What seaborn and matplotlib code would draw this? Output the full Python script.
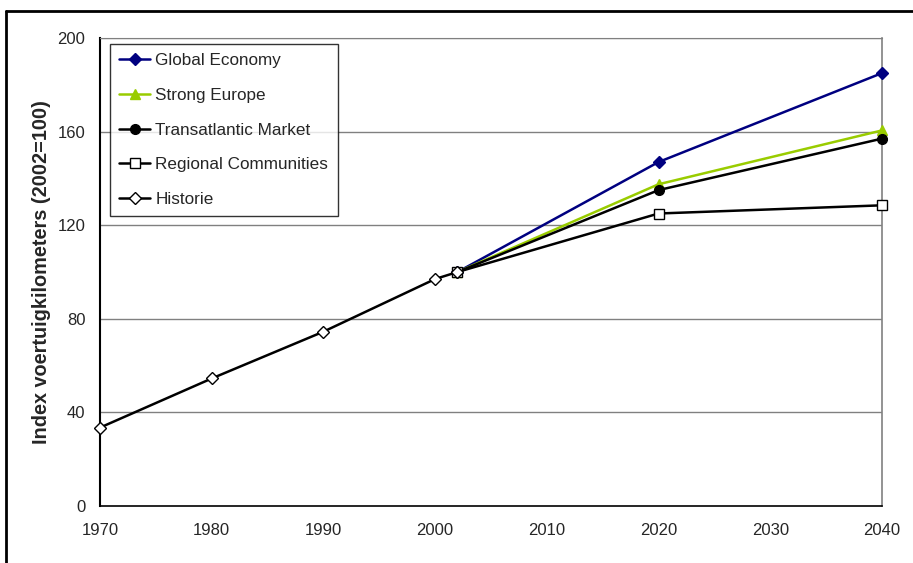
import matplotlib
matplotlib.use("Agg")
import matplotlib.pyplot as plt
from matplotlib.lines import Line2D
import seaborn as sns
import pandas as pd

sns.set_style("white")
plt.rcParams["font.family"] = ["Liberation Sans", "DejaVu Sans"]

# Scenario projections (index, 2002 = 100)
scenario_years = [2002, 2020, 2040]
global_economy = [100, 147, 185]
strong_europe = [100, 137.5, 160.5]
transatlantic_market = [100, 135, 157]
regional_communities = [100, 125, 128.5]

# Historical series
history_years = [1970, 1980, 1990, 2000, 2002]
historie = [33.5, 54.5, 74.5, 97, 100]

series = [
    ("Global Economy", scenario_years, global_economy,
     dict(color="#000080", marker="D", markerfacecolor="#000080", markeredgecolor="#000080", markersize=6)),
    ("Strong Europe", scenario_years, strong_europe,
     dict(color="#99CC00", marker="^", markerfacecolor="#99CC00", markeredgecolor="#99CC00", markersize=7)),
    ("Transatlantic Market", scenario_years, transatlantic_market,
     dict(color="black", marker="o", markerfacecolor="black", markeredgecolor="black", markersize=7)),
    ("Regional Communities", scenario_years, regional_communities,
     dict(color="black", marker="s", markerfacecolor="white", markeredgecolor="black", markersize=7)),
    ("Historie", history_years, historie,
     dict(color="black", marker="D", markerfacecolor="white", markeredgecolor="black", markersize=6)),
]

fig = plt.figure(figsize=(9.13, 5.63), dpi=100)
ax = fig.add_axes([100 / 913, 1 - 506 / 563, 782 / 913, 468 / 563])

for name, xs, ys, style in series:
    df = pd.DataFrame({"jaar": xs, "index": ys})
    sns.lineplot(data=df, x="jaar", y="index", ax=ax, label=name,
                 linewidth=1.8, markeredgewidth=1.0, clip_on=False, zorder=3, **style)

ax.set_xlim(1970, 2040)
ax.set_ylim(0, 200)
ax.set_xticks(range(1970, 2041, 10))
ax.set_yticks(range(0, 201, 40))
ax.tick_params(axis="both", labelsize=12, direction="out", color="#808080")
ax.tick_params(axis="x", length=3, pad=9)
ax.tick_params(axis="y", length=5, pad=5.5)
ax.set_xlabel("")
ax.set_ylabel("Index voertuigkilometers (2002=100)", fontsize=14.3, fontweight="bold", labelpad=5)

for y in range(40, 201, 40):
    ax.axhline(y, color="#808080", linewidth=1.0, zorder=1)

ax.spines["left"].set_color("black")
ax.spines["left"].set_linewidth(1.5)
ax.spines["bottom"].set_color("black")
ax.spines["bottom"].set_linewidth(1.2)
ax.spines["top"].set_color("#808080")
ax.spines["right"].set_color("#808080")
ax.spines["right"].set_linewidth(1.2)

leg = ax.legend(loc="upper left", bbox_to_anchor=(10 / 782, 1 - 6 / 468), frameon=True, fancybox=False,
                fontsize=12.3, labelspacing=1.15, handlelength=1.8, handletextpad=0.3,
                borderpad=0.55, borderaxespad=0)
leg.get_frame().set_edgecolor("black")
leg.get_frame().set_linewidth(1.0)

# outer frame of the figure
fig.add_artist(Line2D([5.5 / 913, 5.5 / 913], [0, 1 - 11 / 563], color="black", linewidth=2,
                      transform=fig.transFigure))
fig.add_artist(Line2D([5.5 / 913, 1], [1 - 11 / 563, 1 - 11 / 563], color="black", linewidth=2,
                      transform=fig.transFigure))

fig.savefig("out.png", dpi=100)
